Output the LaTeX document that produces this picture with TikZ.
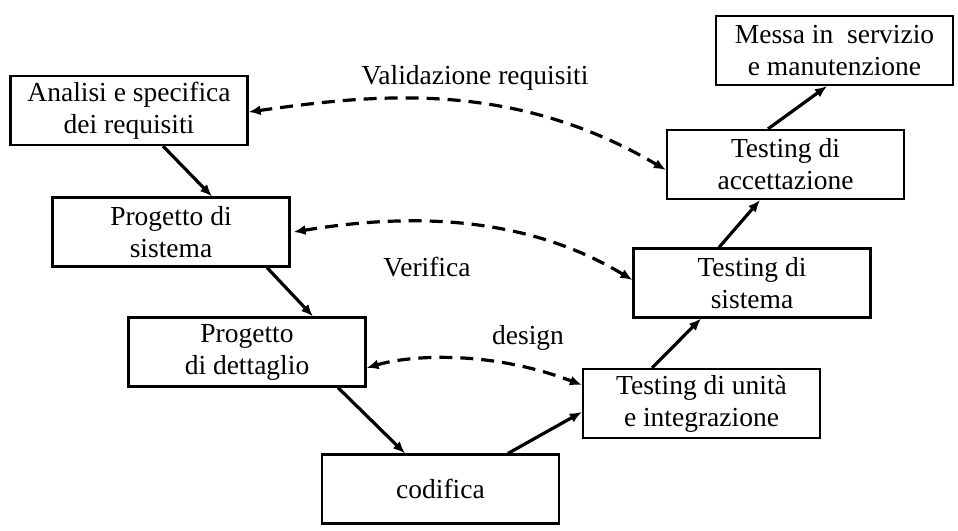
\documentclass[tikz,border=0pt]{standalone}
\usepackage{fontspec}
\setmainfont{Liberation Serif}
\usetikzlibrary{arrows.meta}
\tikzset{>={Latex[width=10pt,length=12pt]}}

\begin{document}
\begin{tikzpicture}[x=1pt,y=-1pt,
  phase/.style={draw,line width=2.2pt,minimum width=237pt,minimum height=69pt,
    align=center,inner sep=0pt,font=\fontsize{27.5}{32}\selectfont},
  flow/.style={->,line width=3.2pt},
  check/.style={<->,line width=3.2pt,dash pattern=on 13pt off 8pt},
  lbl/.style={font=\fontsize{27.5}{32}\selectfont}]
  \useasboundingbox (0,0) rectangle (958,530);
  % Draw phases
  \node[phase] (req)  at (129,110.5) {Analisi e specifica\\dei requisiti};
  \node[phase] (sys)  at (171,232)   {Progetto di\\sistema};
  \node[phase] (det)  at (247,352)   {Progetto\\di dettaglio};
  \node[phase] (cod)  at (440.5,489) {codifica};
  \node[phase] (unit) at (701.5,403.5) {Testing di unità\\e integrazione};
  \node[phase] (tsys) at (752,283)   {Testing di\\sistema};
  \node[phase] (acc)  at (785.5,164.5) {Testing di\\accettazione};
  \node[phase] (run)  at (834.5,50.5)  {Messa in\ \ servizio\\e manutenzione};
  % Draw labels of the checks
  \node[lbl] (val) at (475,78)  {Validazione requisiti};
  \node[lbl] (ver) at (427,267) {Verifica};
  \node[lbl] (des) at (528,338) {design};
  % Draw the V
  \draw[flow] ([xshift=34pt]req.south)  -- ([xshift=41pt]sys.north);
  \draw[flow] ([xshift=96pt]sys.south)  -- ([xshift=66pt]det.north);
  \draw[flow] ([xshift=91pt]det.south)  -- ([xshift=-35.5pt]cod.north);
  \draw[flow] ([xshift=67.5pt]cod.north) -- ([yshift=-8.5pt]unit.west);
  \draw[flow] ([xshift=-49.5pt]unit.north) -- ([xshift=-51pt]tsys.south);
  \draw[flow] ([xshift=-33pt]tsys.north) -- ([xshift=-25.5pt]acc.south);
  \draw[flow] ([xshift=-17.5pt]acc.north) -- ([xshift=-7.5pt]run.south);
  % Draw the checks
  \draw[check] ([yshift=-1.5pt]req.east) .. controls (370,95) and (510,78) .. ([yshift=-5.5pt]acc.west);
  \draw[check] ([xshift=3pt]sys.east) .. controls (380,218) and (510,206) .. ([yshift=3pt]tsys.west);
  \draw[check] ([yshift=-16pt]det.east) .. controls (410,355) and (490,350) .. ([yshift=18.5pt]unit.west);
\end{tikzpicture}
\end{document}
